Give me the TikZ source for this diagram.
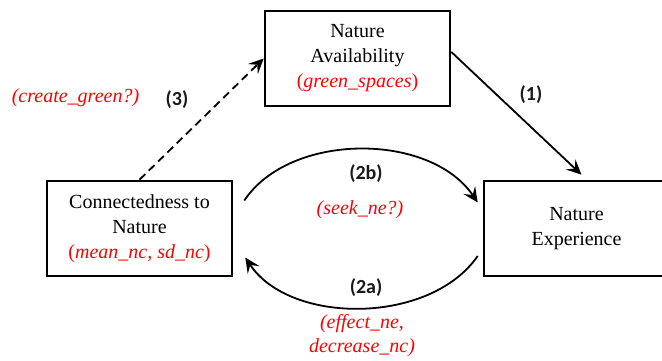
\documentclass[tikz,border=0pt]{standalone}
\usepackage{fontspec}
\setmainfont{Liberation Serif}
\newfontfamily\calib{Carlito}
\usetikzlibrary{arrows.meta,calc}
\begin{document}
\begin{tikzpicture}[x=1pt,y=-1pt,
  box/.style={draw,line width=2.6pt,minimum width=185pt,minimum height=95pt,align=center,inner sep=0pt,text=black,font=\fontsize{20}{25}\selectfont},
  num/.style={inner sep=0pt,text=black!90,font=\calib\bfseries\fontsize{20}{24}\selectfont},
  var/.style={inner sep=0pt,text=red,align=center,font=\itshape\fontsize{20}{24}\selectfont},
  arr/.style={line width=1.8pt,-{Stealth[length=15pt,width=14pt,inset=6pt]}}]
\useasboundingbox (0,0) rectangle (662,361);
\clip (0,0) rectangle (662,361);
\node[box] (na) at (357.5,58.5) {Nature\\Availability\\{\color{red}(\textit{green\_spaces})}};
\node[box] (conn) at (139.5,228.5) {Connectedness to\\Nature\\{\color{red}(\textit{mean\_nc, sd\_nc})}};
\node[box] (ne) at (576.5,228.5) {Nature\\Experience};
\draw[arr,dash pattern=on 8pt off 5pt] (conn.north) -- (na.west);
\draw[arr] (na.4) -- ($(ne.north)+(5,-5)$);
\draw[arr] ($(conn.east)+(11,-28)$) .. controls (290,132) and (430,132) .. ($(ne.west)+(-5,-26)$);
\draw[arr] ($(ne.west)+(-5,27.5)$) .. controls (430,325) and (290,325) .. ($(conn.east)+(12,29)$);
\node[num] (l3) at (177,100) {(3)};
\node[num] (l1) at (531,95) {(1)};
\node[num] (l2b) at (366,174) {(2b)};
\node[num] (l2a) at (366,288) {(2a)};
\node[var] (v3) at (75.5,98) {(create\_green?)};
\node[var] (v2b) at (360,210) {(seek\_ne?)};
\node[var] (v2a) at (362,336) {(effect\_ne,\\decrease\_nc)};
\end{tikzpicture}
\end{document}
